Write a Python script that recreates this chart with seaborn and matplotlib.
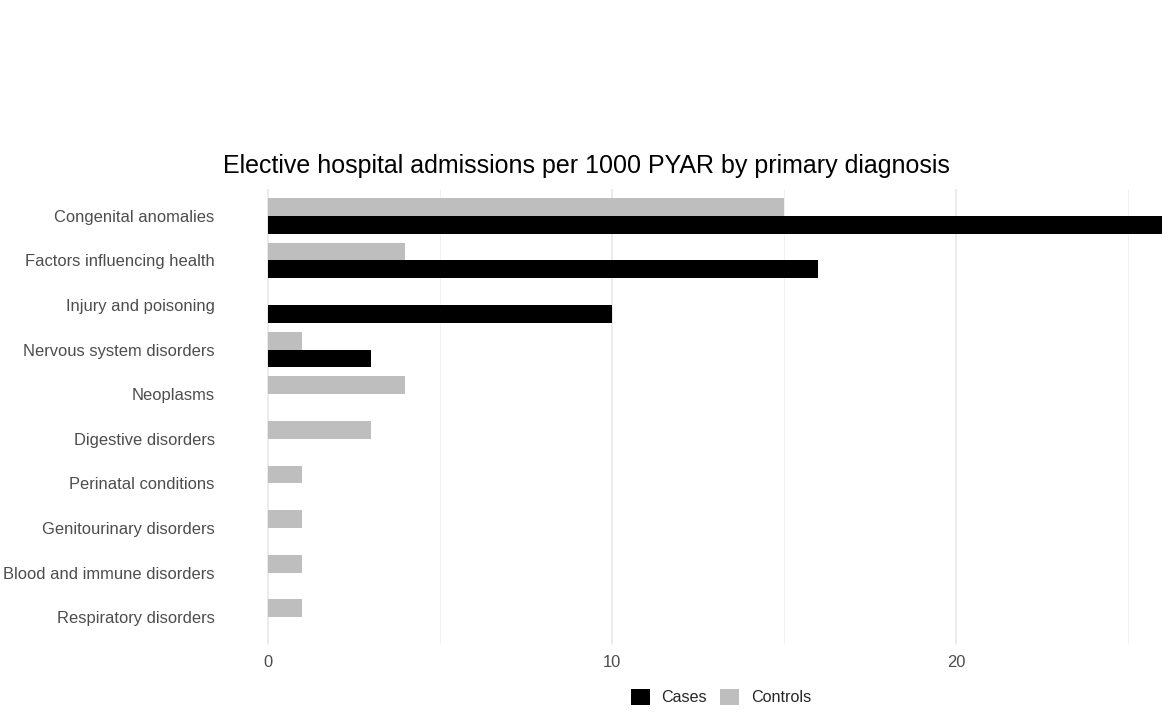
import matplotlib.pyplot as plt
import matplotlib.patches as mpatches
import numpy as np
import pandas as pd
import seaborn as sns

categories = [
    "Congenital anomalies",
    "Factors influencing health",
    "Injury and poisoning",
    "Nervous system disorders",
    "Neoplasms",
    "Digestive disorders",
    "Perinatal conditions",
    "Genitourinary disorders",
    "Blood and immune disorders",
    "Respiratory disorders",
]
cases = [26, 16, 10, 3, 0, 0, 0, 0, 0, 0]
controls = [15, 4, 0, 1, 4, 3, 1, 1, 1, 1]

df = pd.DataFrame({
    "diagnosis": categories * 2,
    "rate": cases + controls,
    "group": ["Cases"] * len(categories) + ["Controls"] * len(categories),
})

sns.set_theme(style="white")
plt.rcParams["font.family"] = ["Liberation Sans", "DejaVu Sans"]

fig = plt.figure(figsize=(11.69, 7.12), dpi=100)
W, H = 1169, 712
left, right, top, bottom = 223, 1207, 189, 644
ax = fig.add_axes([left / W, (H - bottom) / H, (right - left) / W, (bottom - top) / H])

palette = {"Cases": "#000000", "Controls": "#bebebe"}
sns.barplot(
    data=df, y="diagnosis", x="rate", hue="group",
    order=categories, hue_order=["Controls", "Cases"],
    palette=palette, width=0.8, orient="h",
    linewidth=0, legend=False, ax=ax,
)

ax.set_xlim(-1.3, 27.3)
ax.set_ylim(len(categories) - 0.4, -0.6)
ax.set_xticks([0, 10, 20])
ax.set_xticks([5, 15, 25], minor=True)
ax.grid(axis="x", which="major", color="#e6e6e6", linewidth=1.1)
ax.grid(axis="x", which="minor", color="#efefef", linewidth=0.6)
ax.grid(axis="y", visible=False)
ax.set_axisbelow(True)
for s in ax.spines.values():
    s.set_visible(False)
ax.tick_params(axis="both", which="both", length=0, labelsize=11.9, labelcolor="#4d4d4d")
ax.tick_params(axis="y", pad=6)
ax.tick_params(axis="x", pad=8)
ax.set_xlabel("")
ax.set_ylabel("")

fig.text(left / W, (H - 166) / H, "Elective hospital admissions per 1000 PYAR by primary diagnosis",
         fontsize=18, color="black", ha="left", va="center")

handles = [mpatches.Patch(facecolor=palette[g], edgecolor="none", label=g) for g in ["Cases", "Controls"]]
fig.legend(handles=handles, loc="center", bbox_to_anchor=(721 / W, (H - 697) / H),
           ncol=2, frameon=False, fontsize=11.6, handlelength=1.2, handleheight=1.2,
           handletextpad=0.7, columnspacing=0.8)

fig.savefig("out.png", dpi=100)
